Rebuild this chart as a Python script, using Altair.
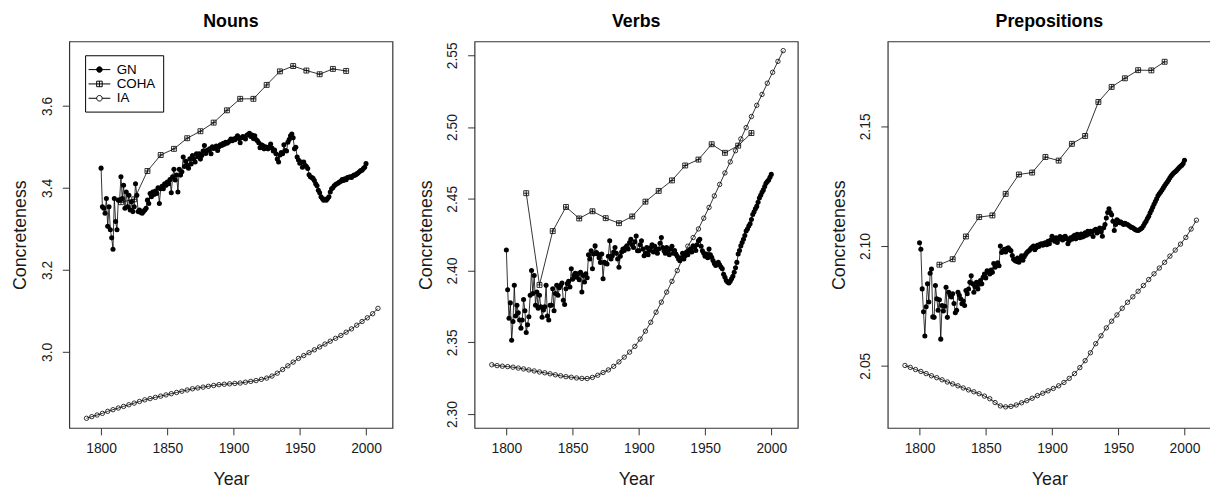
import altair as alt
import pandas as pd

FONT = "Liberation Sans, Arial, Helvetica, sans-serif"

GN_YEARS = list(range(1800, 2001))
IA_YEARS = list(range(1789, 2010, 4))
COHA_YEARS = list(range(1815, 1986, 10))
SERIES = ["GN", "COHA", "IA"]
X_TICKS = [1800, 1850, 1900, 1950, 2000]

nouns_gn = [
    3.448, 3.354, 3.350, 3.338, 3.374, 3.306, 3.354, 3.298, 3.278, 3.250,
    3.374, 3.318, 3.298, 3.370, 3.370, 3.427, 3.374, 3.406, 3.350, 3.390,
    3.354, 3.382, 3.346, 3.366, 3.342, 3.354, 3.410, 3.382, 3.342, 3.346,
    3.340, 3.338, 3.342, 3.346, 3.350, 3.370, 3.362, 3.386, 3.378, 3.390,
    3.384, 3.392, 3.386, 3.400, 3.362, 3.398, 3.404, 3.398, 3.410, 3.406,
    3.414, 3.410, 3.420, 3.388, 3.427, 3.445, 3.419, 3.431, 3.390, 3.445,
    3.431, 3.439, 3.475, 3.452, 3.465, 3.455, 3.448, 3.471, 3.458, 3.479,
    3.470, 3.463, 3.483, 3.476, 3.483, 3.470, 3.479, 3.490, 3.503, 3.484,
    3.491, 3.492, 3.495, 3.483, 3.500, 3.496, 3.499, 3.502, 3.491, 3.500,
    3.505, 3.503, 3.508, 3.506, 3.511, 3.509, 3.511, 3.514, 3.519, 3.515,
    3.519, 3.517, 3.522, 3.527, 3.520, 3.510, 3.522, 3.525, 3.523, 3.519,
    3.528, 3.530, 3.533, 3.525, 3.529, 3.520, 3.527, 3.518, 3.515, 3.510,
    3.498, 3.505, 3.503, 3.495, 3.500, 3.497, 3.495, 3.500, 3.507, 3.497,
    3.490, 3.492, 3.483, 3.470, 3.463, 3.480, 3.486, 3.483, 3.505, 3.491,
    3.490, 3.511, 3.518, 3.527, 3.531, 3.522, 3.495, 3.499, 3.475, 3.468,
    3.460, 3.463, 3.450, 3.463, 3.455, 3.452, 3.447, 3.432, 3.427, 3.425,
    3.423, 3.418, 3.410, 3.405, 3.394, 3.388, 3.378, 3.374, 3.370, 3.372,
    3.370, 3.374, 3.378, 3.390, 3.398, 3.400, 3.405, 3.408, 3.410, 3.412,
    3.414, 3.416, 3.420, 3.418, 3.422, 3.420, 3.425, 3.426, 3.427, 3.425,
    3.429, 3.431, 3.431, 3.434, 3.436, 3.439, 3.442, 3.443, 3.447, 3.450,
    3.459,
]
nouns_coha = [3.365, 3.372, 3.441, 3.480, 3.495, 3.521, 3.538, 3.559, 3.589,
              3.617, 3.617, 3.651, 3.684, 3.697, 3.686, 3.677, 3.690, 3.685]
nouns_ia = [
    2.838, 2.842, 2.846, 2.850, 2.855, 2.859, 2.863, 2.867, 2.871, 2.875,
    2.879, 2.883, 2.886, 2.889, 2.892, 2.895, 2.898, 2.901, 2.904, 2.907,
    2.910, 2.912, 2.914, 2.916, 2.918, 2.920, 2.921, 2.922, 2.923, 2.924,
    2.926, 2.928, 2.930, 2.933, 2.936, 2.941, 2.948, 2.957, 2.966, 2.975,
    2.984, 2.991, 2.998, 3.005, 3.012, 3.019, 3.026, 3.033, 3.040, 3.048,
    3.056, 3.065, 3.074, 3.083, 3.093, 3.106,
]

verbs_gn = [
    2.4143, 2.3867, 2.3668, 2.3775, 2.3514, 2.3645, 2.3897, 2.3684, 2.3759, 2.3706,
    2.3656, 2.3599, 2.3656, 2.3799, 2.3720, 2.3569, 2.3622, 2.3679, 2.3828, 2.4000,
    2.3840, 2.3966, 2.3759, 2.3851, 2.3737, 2.3828, 2.3748, 2.3675, 2.3725, 2.3748,
    2.3897, 2.3684, 2.3656, 2.3759, 2.3759, 2.3874, 2.3720, 2.3840, 2.3897, 2.3828,
    2.3880, 2.3897, 2.3913, 2.3794, 2.3764, 2.3874, 2.3909, 2.3925, 2.3885, 2.4012,
    2.3940, 2.3966, 2.3982, 2.3954, 2.3977, 2.3936, 2.3988, 2.3851, 2.3966, 2.3920,
    2.3977, 2.3950, 2.4110, 2.4081, 2.4138, 2.4012, 2.4115, 2.4172, 2.4126, 2.4115,
    2.4090, 2.4057, 2.4115, 2.3943, 2.4057, 2.4050, 2.4046, 2.4100, 2.4207, 2.4080,
    2.4103, 2.4130, 2.4160, 2.4120, 2.4081, 2.4023, 2.4100, 2.4130, 2.4150, 2.4140,
    2.4160, 2.4172, 2.4150, 2.4195, 2.4218, 2.4180, 2.4160, 2.4200, 2.4241, 2.4138,
    2.4138, 2.4180, 2.4207, 2.4150, 2.4103, 2.4120, 2.4160, 2.4110, 2.4140, 2.4160,
    2.4180, 2.4130, 2.4170, 2.4150, 2.4120, 2.4150, 2.4190, 2.4230, 2.4160, 2.4138,
    2.4120, 2.4160, 2.4130, 2.4110, 2.4150, 2.4170, 2.4120, 2.4140, 2.4115, 2.4100,
    2.4080, 2.4069, 2.4090, 2.4120, 2.4080, 2.4103, 2.4130, 2.4110, 2.4140, 2.4150,
    2.4130, 2.4172, 2.4160, 2.4140, 2.4180, 2.4207, 2.4218, 2.4170, 2.4138, 2.4120,
    2.4100, 2.4115, 2.4090, 2.4150, 2.4110, 2.4092, 2.4070, 2.4050, 2.4035, 2.4045,
    2.4057, 2.4040, 2.4025, 2.4012, 2.3975, 2.3954, 2.3930, 2.3920, 2.3913, 2.3925,
    2.3943, 2.3960, 2.3989, 2.4020, 2.4057, 2.4115, 2.4140, 2.4172, 2.4195, 2.4218,
    2.4245, 2.4275, 2.4290, 2.4310, 2.4326, 2.4355, 2.4390, 2.4410, 2.4430, 2.4447,
    2.4475, 2.4505, 2.4525, 2.4545, 2.4562, 2.4585, 2.4608, 2.4620, 2.4631, 2.4650,
    2.4670,
]
verbs_coha = [2.4539, 2.3900, 2.4275, 2.4443, 2.4363, 2.4413, 2.4365, 2.4330, 2.4377,
              2.4480, 2.4555, 2.4628, 2.4732, 2.4773, 2.4880, 2.4820, 2.4870, 2.4958]
verbs_ia = [
    2.3344, 2.3338, 2.3334, 2.3331, 2.3327, 2.3321, 2.3315, 2.3308, 2.3301, 2.3294,
    2.3288, 2.3281, 2.3274, 2.3267, 2.3261, 2.3257, 2.3252, 2.3249, 2.3248, 2.3256,
    2.3271, 2.3290, 2.3308, 2.3333, 2.3364, 2.3397, 2.3432, 2.3472, 2.3523, 2.3578,
    2.3640, 2.3710, 2.3780, 2.3850, 2.3925, 2.4000, 2.4085, 2.4170, 2.4230, 2.4290,
    2.4365, 2.4440, 2.4520, 2.4600, 2.4680, 2.4757, 2.4835, 2.4917, 2.4996, 2.5073,
    2.5151, 2.5227, 2.5305, 2.5381, 2.5457, 2.5532,
]

preps_gn = [
    2.1014, 2.0987, 2.0821, 2.0725, 2.0624, 2.0746, 2.0842, 2.0766, 2.0886, 2.0904,
    2.0704, 2.0702, 2.0835, 2.0780, 2.0732, 2.0776, 2.0611, 2.0752, 2.0729, 2.0748,
    2.0828, 2.0702, 2.0807, 2.0795, 2.0787, 2.0801, 2.0760, 2.0721, 2.0732, 2.0807,
    2.0794, 2.0780, 2.0759, 2.0770, 2.0752, 2.0814, 2.0801, 2.0820, 2.0849, 2.0876,
    2.0842, 2.0807, 2.0830, 2.0849, 2.0821, 2.0840, 2.0856, 2.0842, 2.0870, 2.0883,
    2.0867, 2.0897, 2.0890, 2.0883, 2.0900, 2.0890, 2.0927, 2.0911, 2.0920, 2.0930,
    2.0918, 2.1000, 2.0973, 2.0980, 2.0987, 2.0975, 2.0990, 2.0993, 2.0985, 2.0980,
    2.0960, 2.0945, 2.0940, 2.0936, 2.0950, 2.0932, 2.0945, 2.0959, 2.0941, 2.0955,
    2.0965, 2.0973, 2.0978, 2.0982, 2.0990, 2.0995, 2.1000, 2.0985, 2.0993, 2.1003,
    2.0998, 2.1007, 2.1010, 2.1003, 2.1012, 2.1014, 2.1005, 2.1020, 2.1010, 2.1025,
    2.1041, 2.1030, 2.1020, 2.1035, 2.1015, 2.1028, 2.1040, 2.1033, 2.1025, 2.1038,
    2.1041, 2.1030, 2.1010, 2.1022, 2.1035, 2.1028, 2.1040, 2.1045, 2.1030, 2.1049,
    2.1043, 2.1035, 2.1050, 2.1038, 2.1041, 2.1055, 2.1045, 2.1062, 2.1050, 2.1062,
    2.1058, 2.1040, 2.1066, 2.1070, 2.1055, 2.1065, 2.1075, 2.1060, 2.1041, 2.1076,
    2.1090, 2.1117, 2.1140, 2.1156, 2.1140, 2.1131, 2.1104, 2.1065, 2.1090, 2.1110,
    2.1105, 2.1097, 2.1100, 2.1095, 2.1090, 2.1095, 2.1092, 2.1090, 2.1086, 2.1082,
    2.1078, 2.1076, 2.1072, 2.1068, 2.1066, 2.1065, 2.1068, 2.1072, 2.1076, 2.1085,
    2.1095, 2.1104, 2.1115, 2.1124, 2.1138, 2.1150, 2.1162, 2.1175, 2.1186, 2.1198,
    2.1210, 2.1218, 2.1226, 2.1234, 2.1243, 2.1252, 2.1260, 2.1268, 2.1276, 2.1285,
    2.1294, 2.1300, 2.1306, 2.1310, 2.1316, 2.1322, 2.1328, 2.1333, 2.1338, 2.1345,
    2.1358,
]
preps_coha = [2.0922, 2.0945, 2.1040, 2.1121, 2.1128, 2.1218, 2.1299, 2.1307, 2.1372,
              2.1357, 2.1427, 2.1460, 2.1602, 2.1665, 2.1701, 2.1735, 2.1734, 2.1770]
preps_ia = [
    2.0501, 2.0493, 2.0484, 2.0476, 2.0467, 2.0458, 2.0450, 2.0441, 2.0432, 2.0424,
    2.0416, 2.0407, 2.0399, 2.0391, 2.0383, 2.0373, 2.0362, 2.0346, 2.0332, 2.0328,
    2.0330, 2.0336, 2.0345, 2.0354, 2.0364, 2.0375, 2.0385, 2.0395, 2.0405, 2.0416,
    2.0430, 2.0447, 2.0467, 2.0492, 2.0521, 2.0554, 2.0592, 2.0625, 2.0658, 2.0686,
    2.0712, 2.0740, 2.0765, 2.0788, 2.0811, 2.0835, 2.0860, 2.0884, 2.0908, 2.0932,
    2.0958, 2.0983, 2.1008, 2.1036, 2.1071, 2.1108,
]

X_DOMAIN = [1776, 2020]
PANEL_W = 327
PANEL_H = 391

SQUARE_PLUS = "M-1,-1H1V1H-1ZM0,-1V1M-1,0H1"
LEG_GN = "M-1.57,0H1.57M-0.4,0A0.4,0.4,0,1,0,0.4,0A0.4,0.4,0,1,0,-0.4,0Z"
LEG_COHA = "M-1.57,0H-0.4M0.4,0H1.57M-0.4,-0.4H0.4V0.4H-0.4ZM0,-0.4V0.4M-0.4,0H0.4"
LEG_IA = "M-1.57,0H-0.4M0.4,0H1.57M-0.4,0A0.4,0.4,0,1,0,0.4,0A0.4,0.4,0,1,0,-0.4,0Z"


def make_panel(name, gn, coha, ia, ydom, yticks, yfmt, legend=False):
    xenc = alt.X(
        "year:Q",
        scale=alt.Scale(domain=X_DOMAIN, nice=False, zero=False),
        axis=alt.Axis(values=X_TICKS, format="d", title="Year", labelPadding=7,
                      titlePadding=15, labelFlush=False, labelOverlap=False),
    )
    yenc = alt.Y(
        "value:Q",
        scale=alt.Scale(domain=ydom, nice=False, zero=False),
        axis=alt.Axis(values=yticks, format=yfmt, title="Concreteness", labelAngle=270,
                      labelAlign="center", labelBaseline="bottom", labelPadding=8,
                      minExtent=29, maxExtent=29, titlePadding=11,
                      labelFlush=False, labelOverlap=False),
    )
    d_gn = pd.DataFrame({"year": GN_YEARS, "value": gn})
    d_coha = pd.DataFrame({"year": COHA_YEARS, "value": coha})
    d_ia = pd.DataFrame({"year": IA_YEARS, "value": ia})

    layers = [
        alt.Chart(d_gn).mark_line(color="black", strokeWidth=0.8).encode(x=xenc, y=yenc),
        alt.Chart(d_gn).mark_point(shape="circle", filled=True, color="black", size=26,
                                   opacity=1).encode(x=xenc, y=yenc),
        alt.Chart(d_coha).mark_line(color="black", strokeWidth=0.8).encode(x=xenc, y=yenc),
        alt.Chart(d_coha).mark_point(shape=SQUARE_PLUS, filled=False, color="black", size=25,
                                     strokeWidth=0.8, opacity=1).encode(x=xenc, y=yenc),
        alt.Chart(d_ia).mark_line(color="black", strokeWidth=0.8).encode(x=xenc, y=yenc),
        alt.Chart(d_ia).mark_point(shape="circle", filled=False, color="black", size=20,
                                   strokeWidth=0.8, opacity=1).encode(x=xenc, y=yenc),
    ]
    if legend:
        leg_df = pd.DataFrame({"year": [1700, 1700, 1700],
                               "value": [ydom[0] + 0.1] * 3,
                               "series": SERIES})
        leg = alt.Legend(title=None, orient="none", legendX=16, legendY=14,
                         symbolSize=196, symbolStrokeWidth=1, symbolStrokeColor="black",
                         labelFont=FONT, labelFontSize=13.5, labelColor="black",
                         labelOffset=10, padding=7, rowPadding=0.5,
                         strokeColor="black", fillColor="white")
        layers.append(
            alt.Chart(leg_df).mark_point(clip=True, strokeWidth=1, opacity=1).encode(
                x=xenc, y=yenc,
                shape=alt.Shape("series:N",
                                scale=alt.Scale(domain=SERIES,
                                                range=[LEG_GN, LEG_COHA, LEG_IA]),
                                legend=leg),
                fill=alt.Fill("series:N",
                              scale=alt.Scale(domain=SERIES,
                                              range=["black", "white", "white"]),
                              legend=leg),
                stroke=alt.Stroke("series:N",
                                  scale=alt.Scale(domain=SERIES,
                                                  range=["black", "black", "black"]),
                                  legend=leg),
            )
        )
    return alt.layer(*layers).properties(
        width=PANEL_W, height=PANEL_H,
        title=alt.TitleParams(name, font=FONT, fontSize=18, fontWeight="bold",
                              offset=11, color="black", anchor="middle"),
    )


p1 = make_panel("Nouns", nouns_gn, nouns_coha, nouns_ia, [2.8145, 3.757],
                [3.0, 3.2, 3.4, 3.6], ".1f", legend=True)
p2 = make_panel("Verbs", verbs_gn, verbs_coha, verbs_ia, [2.2904, 2.5596],
                [2.30, 2.35, 2.40, 2.45, 2.50, 2.55], ".2f")
p3 = make_panel("Prepositions", preps_gn, preps_coha, preps_ia, [2.024, 2.1855],
                [2.05, 2.10, 2.15], ".2f")


def build(pad):
    ch = alt.hconcat(p1, alt.hconcat(p2, p3, spacing=31), spacing=23).properties(
        padding=pad
    )
    return (
        ch.configure_view(stroke="#333333", strokeWidth=1.2)
        .configure_axis(labelFont=FONT, titleFont=FONT, labelFontSize=14,
                        titleFontSize=18, labelColor="#1a1a1a", titleColor="#1a1a1a",
                        titleFontWeight="normal", tickColor="#333333", tickSize=7,
                        tickWidth=1, domain=False, grid=False)
        .configure_legend(labelFont=FONT)
    )


try:
    chart = build({"left": 3, "top": 1, "right": -2, "bottom": 0})
    chart.to_dict()
except Exception:
    chart = build({"left": 3, "top": 1, "right": 0, "bottom": 0})

chart.save("out.html", embed_options={"renderer": "svg", "actions": False})
